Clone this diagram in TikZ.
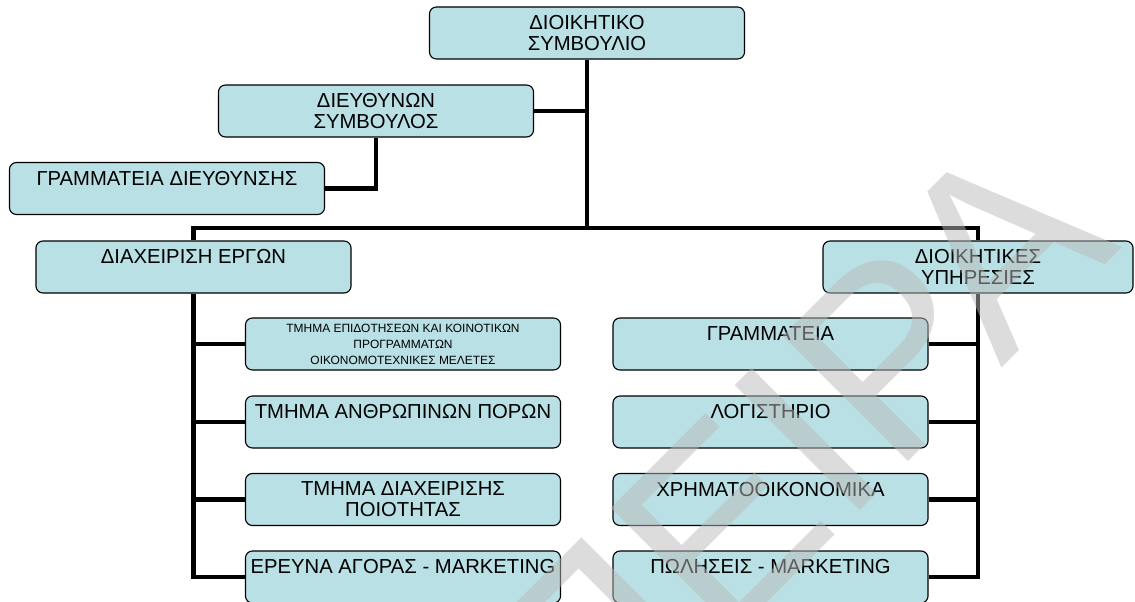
\documentclass[tikz,border=0pt]{standalone}
\usepackage{fontspec}
\setmainfont{Liberation Sans}
\definecolor{boxfill}{RGB}{185,224,228}
\definecolor{wmgray}{RGB}{185,185,185}
\newcommand{\boxfont}{\fontsize{14.4}{15}\selectfont}
\newcommand{\smallboxfont}{\fontsize{8.5}{11.4}\selectfont}
\tikzset{
  unit/.style={draw, line width=0.8pt, rounded corners=5pt, fill=boxfill,
    align=center, minimum width=7.875cm, minimum height=1.3cm,
    inner sep=0pt, font=\boxfont},
  link/.style={line width=3.5pt},
  wmark/.style={text=wmgray, opacity=0.5, font=\fontsize{183}{183}\selectfont}
}
\begin{document}
\begin{tikzpicture}[x=0.025cm,y=-0.025cm]
        \useasboundingbox (0,0) rectangle (1135,601);
        % top levels
        \node[unit] (board) at (587,33) {ΔΙΟΙΚΗΤΙΚΟ\\ΣΥΜΒΟΥΛΙΟ};
        \node[unit] (ceo) at (376,111) {ΔΙΕΥΘΥΝΩΝ\\ΣΥΜΒΟΥΛΟΣ};
        \node[unit] (ceosec) at (167,188.5) {ΓΡΑΜΜΑΤΕΙΑ ΔΙΕΥΘΥΝΣΗΣ\\~};
        \node[unit] (projects) at (193.5,267) {ΔΙΑΧΕΙΡΙΣΗ ΕΡΓΩΝ\\~};
        \node[unit, minimum width=7.75cm] (admin) at (978,267) {ΔΙΟΙΚΗΤΙΚΕΣ\\ΥΠΗΡΕΣΙΕΣ};
        \coordinate (bus) at (587,228);
        % left departments
        \node[unit, font=\smallboxfont] (grants) at (403,344) {ΤΜΗΜΑ ΕΠΙΔΟΤΗΣΕΩΝ ΚΑΙ ΚΟΙΝΟΤΙΚΩΝ\\ΠΡΟΓΡΑΜΜΑΤΩΝ\\ΟΙΚΟΝΟΜΟΤΕΧΝΙΚΕΣ ΜΕΛΕΤΕΣ};
        \node[unit] (hr) at (403,422) {ΤΜΗΜΑ ΑΝΘΡΩΠΙΝΩΝ ΠΟΡΩΝ\\~};
        \node[unit] (quality) at (403,499.5) {ΤΜΗΜΑ ΔΙΑΧΕΙΡΙΣΗΣ\\ΠΟΙΟΤΗΤΑΣ};
        \node[unit] (research) at (403,577) {ΕΡΕΥΝΑ ΑΓΟΡΑΣ - MARKETING\\~};
        % right departments
        \node[unit] (secretariat) at (770.5,344) {ΓΡΑΜΜΑΤΕΙΑ\\~};
        \node[unit] (accounts) at (770.5,422) {ΛΟΓΙΣΤΗΡΙΟ\\~};
        \node[unit] (finance) at (770.5,499.5) {ΧΡΗΜΑΤΟΟΙΚΟΝΟΜΙΚΑ\\~};
        \node[unit] (sales) at (770.5,577) {ΠΩΛΗΣΕΙΣ - MARKETING\\~};
        % connectors
        \draw[link] (board.south) -- (bus);
        \draw[link] (ceo.east) -- (ceo.east -| board.south);
        \draw[link] (ceo.south) |- (ceosec.east);
        \draw[link] (projects.north) |- (bus) -| (admin.north);
        \foreach \d in {grants,hr,quality,research}
          \draw[link] (projects.south) |- (\d.west);
        \foreach \d in {secretariat,accounts,finance,sales}
          \draw[link] (admin.south) |- (\d.east);
        % watermark
        \node[wmark, rotate=45] (wm) at (794,451) {ΠΕΙΡΑ};
\end{tikzpicture}
\end{document}
